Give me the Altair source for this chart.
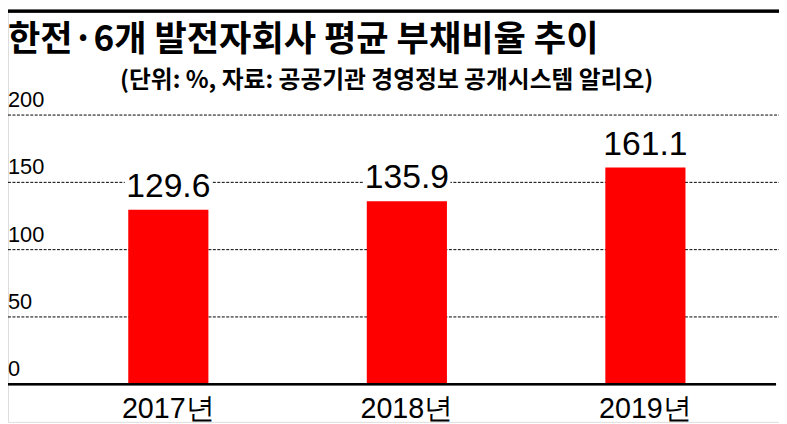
import altair as alt
import pandas as pd

years = ["2017년", "2018년", "2019년"]
values = [129.6, 135.9, 161.1]
value_labels = ["129.6", "135.9", "161.1"]
y_ticks = [0, 50, 100, 150, 200]
title_text = "한전·6개 발전자회사 평균 부채비율 추이"
subtitle_text = "(단위: %, 자료: 공공기관 경영정보 공개시스템 알리오)"

W, H = 779, 416
NUM = "Liberation Sans, Arial, sans-serif"
KR = "Noto Sans CJK KR, Noto Sans, sans-serif"

bars_df = pd.DataFrame({"year": years, "value": values, "label": value_labels})
ticks_df = pd.DataFrame({"v": y_ticks, "t": [str(v) for v in y_ticks]})
grid_df = pd.DataFrame({"v": y_ticks[1:]})

yscale = alt.Scale(domain=[0, 200], range=[378, 106], nice=False, zero=True)
xscale = alt.Scale(domain=years, range=[121.5, 684.5], paddingInner=0.664, paddingOuter=0)

grid = alt.Chart(grid_df).mark_rule(color="black", strokeWidth=1, strokeDash=[3, 1.5]).encode(
    y=alt.Y("v:Q", scale=yscale, axis=None),
    x=alt.value(0), x2=alt.value(W),
)

ylabels = alt.Chart(ticks_df).mark_text(
    align="left", baseline="alphabetic", dy=-8, font=NUM, fontSize=22, color="black"
).encode(
    y=alt.Y("v:Q", scale=yscale, axis=None),
    x=alt.value(0),
    text="t:N",
)

boxes = alt.Chart(bars_df).mark_tick(color="white", thickness=32, size=88, opacity=1, yOffset=-26).encode(
    x=alt.X("year:N", scale=xscale, axis=None),
    y=alt.Y("value:Q", scale=yscale, axis=None),
)

bars = alt.Chart(bars_df).mark_bar(color="#ff0000").encode(
    x=alt.X("year:N", scale=xscale, axis=None),
    y=alt.Y("value:Q", scale=yscale, axis=None),
    y2=alt.datum(0),
)

vlabels = alt.Chart(bars_df).mark_text(
    baseline="alphabetic", dy=-13, font=NUM, fontSize=34, color="black"
).encode(
    x=alt.X("year:N", scale=xscale, axis=None),
    y=alt.Y("value:Q", scale=yscale, axis=None),
    text="label:N",
)

xlabels = alt.Chart(bars_df).mark_text(
    baseline="alphabetic", font=NUM, fontSize=29, color="black"
).encode(
    x=alt.X("year:N", scale=xscale, axis=None),
    y=alt.value(412),
    text="year:N",
)

axis_line = alt.Chart(bars_df).mark_rule(color="black", strokeWidth=2).encode(
    y=alt.Y("v0:Q", scale=yscale, axis=None),
    x=alt.value(0), x2=alt.value(776),
).transform_calculate(v0="0")

top_line = alt.Chart(bars_df).mark_rule(color="black", strokeWidth=3).encode(
    y=alt.value(1), x=alt.value(0), x2=alt.value(W),
)

title = alt.Chart(pd.DataFrame({"t": [title_text]})).mark_text(
    align="left", baseline="alphabetic", font=KR, fontSize=35.5, fontWeight="bold", color="black"
).encode(x=alt.value(0), y=alt.value(41.5), text="t:N")

subtitle = alt.Chart(pd.DataFrame({"t": [subtitle_text]})).mark_text(
    align="right", baseline="alphabetic", font=KR, fontSize=24, fontWeight="bold", color="black"
).encode(x=alt.value(652), y=alt.value(79), text="t:N")

chart = alt.layer(
    grid, boxes, bars, vlabels, axis_line, ylabels, xlabels, top_line, title, subtitle
).properties(
    width=W, height=H, padding=0, autosize=alt.AutoSizeParams(type="none")
).configure_view(stroke=None).configure(background="white")

chart.save("out.html", embed_options={"renderer": "svg", "actions": False})
